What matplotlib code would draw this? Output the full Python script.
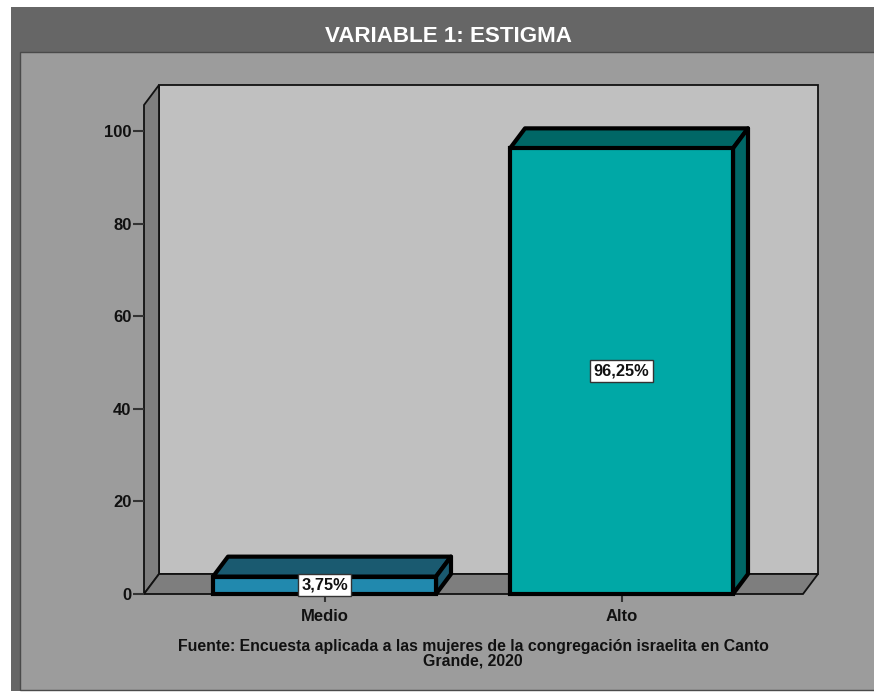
import matplotlib
matplotlib.use("Agg")
import matplotlib.pyplot as plt
from matplotlib.patches import Polygon, Rectangle

categories = ["Medio", "Alto"]
values = [3.75, 96.25]
value_labels = ["3,75%", "96,25%"]
y_ticks = [0, 20, 40, 60, 80, 100]
front_colors = ["#2189AE", "#00A8A6"]
dark_colors = ["#1A5A70", "#006766"]

W, H = 874, 693
plt.rcParams['font.family'] = ['Liberation Sans', 'DejaVu Sans']

fig = plt.figure(figsize=(W / 100, H / 100), dpi=100, facecolor="white")


# full figure axes in pixels for the frame
bg = fig.add_axes([0, 0, 1, 1])
bg.set_xlim(0, W)
bg.set_ylim(H, 0)
bg.axis("off")
bg.add_patch(Rectangle((11, 7), W - 11, 684, fc="#666666", ec="none"))
bg.add_patch(Rectangle((20, 52), W - 20 + 5, 638, fc="#9C9C9C", ec="#4a4a4a", lw=1))
bg.text(448, 36, "VARIABLE 1: ESTIGMA", color="white", fontsize=16.1, fontweight="bold",
        ha="center", va="center")
bg.text(473, 651, "Fuente: Encuesta aplicada a las mujeres de la congregación israelita en Canto",
        fontsize=11.4, fontweight="bold", color="#111111", ha="center", va="baseline")
bg.text(473, 666, "Grande, 2020", fontsize=11.4, fontweight="bold", color="#111111",
        ha="center", va="baseline")

# axes is the front plane of the 3d box
left, right, top, bottom = 144, 803, 105, 594
ax = fig.add_axes([left / W, 1 - bottom / H, (right - left) / W, (bottom - top) / H])
ax.patch.set_alpha(0)
px_y = 100 / 463
ymax = (bottom - top) * px_y
px_x = 1 / 297
x0 = -(324.5 - left) * px_x
x1 = x0 + (right - left) * px_x
ax.set_xlim(x0, x1)
ax.set_ylim(0, ymax)
dx = 15 * px_x
dy = 20 * px_y
bar_w = 223 * px_x
pos = list(range(len(categories)))

# walls
ax.add_patch(Rectangle((x0 + dx, dy), x1 - x0, ymax, fc="#C0C0C0", ec="#111111", lw=1.3, clip_on=False))
ax.add_patch(Polygon([(x0, 0), (x0 + dx, dy), (x0 + dx, ymax + dy), (x0, ymax)],
                     fc="#7E7E7E", ec="#111111", lw=1.3, clip_on=False))
ax.add_patch(Polygon([(x0, 0), (x1, 0), (x1 + dx, dy), (x0 + dx, dy)],
                     fc="#7E7E7E", ec="#111111", lw=1.3, clip_on=False))

# bars
for p, v, fc, dc in zip(pos, values, front_colors, dark_colors):
    a, b = p - bar_w / 2, p + bar_w / 2
    ax.add_patch(Polygon([(a, v), (b, v), (b + dx, v + dy), (a + dx, v + dy)],
                         fc=dc, ec="black", lw=3, joinstyle="round", clip_on=False, zorder=3))
    ax.add_patch(Polygon([(b, 0), (b + dx, dy), (b + dx, v + dy), (b, v)],
                         fc=dc, ec="black", lw=3, joinstyle="round", clip_on=False, zorder=3))
    ax.add_patch(Rectangle((a, 0), bar_w, v, fc=fc, ec="black", lw=3, clip_on=False, zorder=4))

for p, v, s in zip(pos, values, value_labels):
    ax.text(p, v / 2, s, fontsize=11.8, fontweight="bold", color="#111111",
            ha="center", va="center", zorder=6, clip_on=False,
            bbox=dict(boxstyle="square,pad=0.22", fc="white", ec="#333333", lw=1))

for s in ax.spines.values():
    s.set_visible(False)
ax.set_xticks(pos)
ax.set_xticklabels(categories, fontsize=12, fontweight="bold", color="#111111")
ax.set_yticks(y_ticks)
ax.set_yticklabels([str(t) for t in y_ticks], fontsize=12, fontweight="bold", color="#111111")
ax.tick_params(axis="x", length=6, width=1.5, color="#333333", pad=5)
ax.tick_params(axis="y", length=8, width=1.5, color="#333333", pad=1)

fig.savefig("out.png", dpi=100, facecolor="white")
